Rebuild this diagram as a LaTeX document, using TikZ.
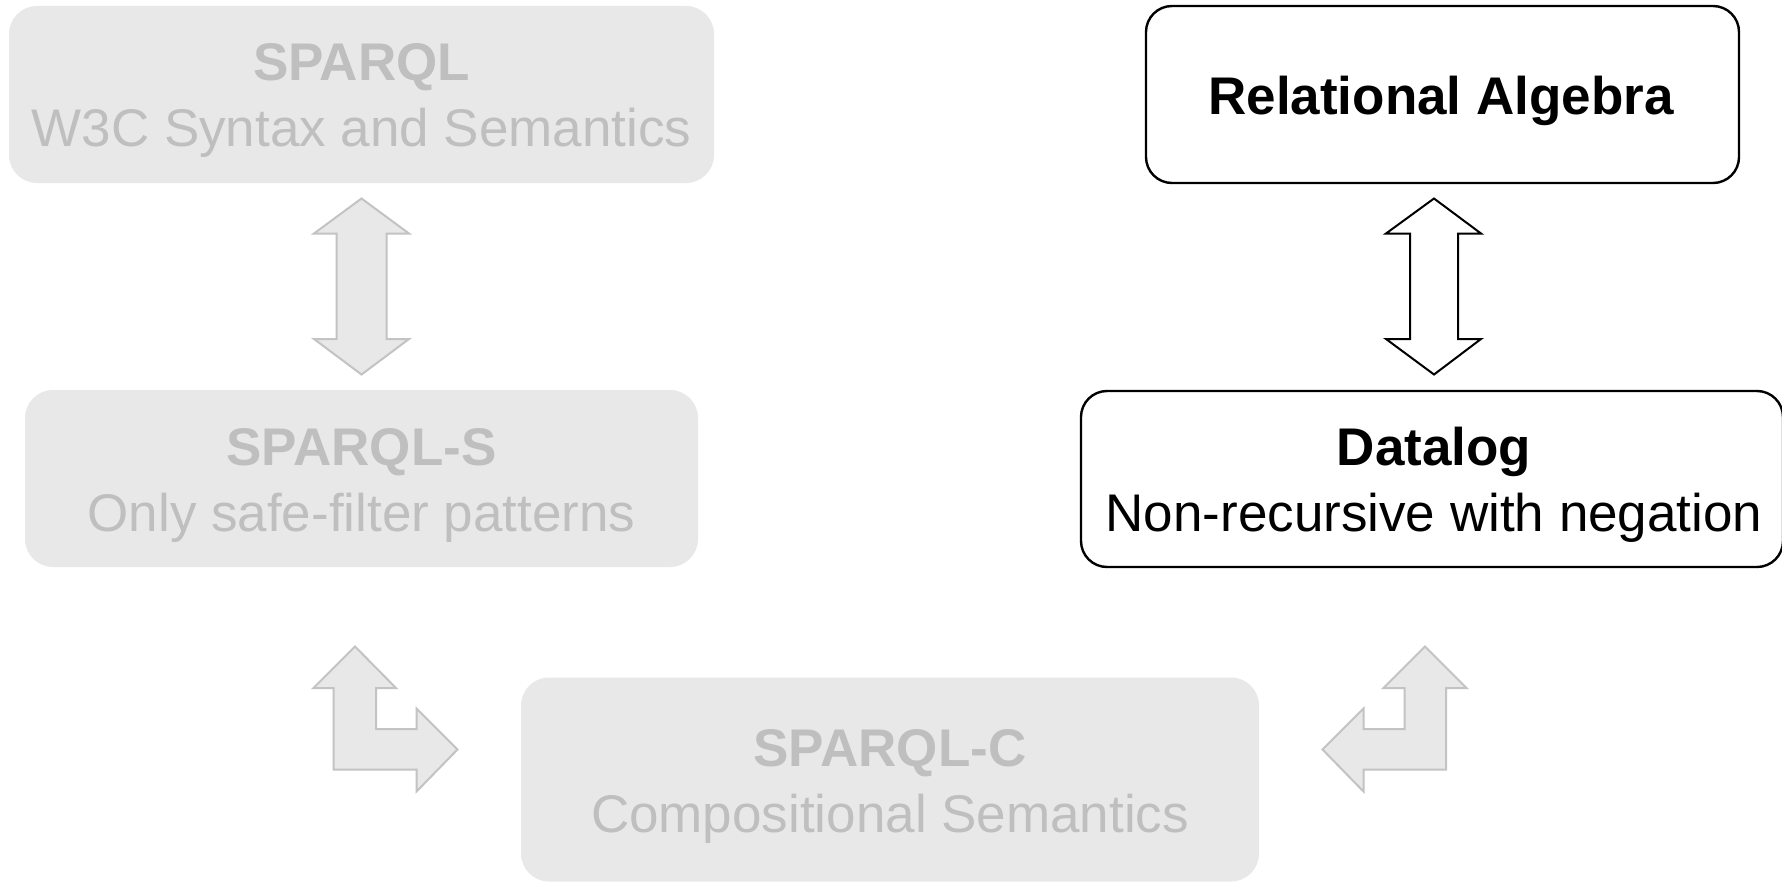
\documentclass[tikz,border=0pt]{standalone}
\usepackage{fontspec}
\setmainfont{Liberation Sans}
\definecolor{boxgray}{HTML}{E8E8E8}
\definecolor{textgray}{HTML}{BFBFBF}
\definecolor{linegray}{HTML}{C3C3C3}
\begin{document}
\begin{tikzpicture}[x=0.5pt,y=-0.5pt,
  lbl/.style={inner sep=0pt, anchor=base, font=\fontsize{26.5pt}{33pt}\selectfont},
  ttl/.style={lbl, font=\fontsize{26.5pt}{33pt}\selectfont\bfseries},
  gbox/.style={rectangle, rounded corners=14pt, fill=boxgray, draw=none, inner sep=0pt},
  bbox/.style={rectangle, rounded corners=13pt, fill=white, draw=black, line width=1.2pt, inner sep=0pt},
  garrow/.style={fill=boxgray, draw=linegray, line width=1pt},
  barrow/.style={fill=white, draw=black, line width=1pt}]
\useasboundingbox (0,0) rectangle (1782,883);
\fill[white] (0,0) rectangle (1782,883);

% faded SPARQL side
\node[gbox, minimum width=352.5pt, minimum height=88.5pt] (sparql) at (361.5,94.5) {};
\node[ttl, text=textgray] (sparqlT) at (361.5,81) {SPARQL};
\node[lbl, text=textgray] (sparqlS) at (361.5,147) {W3C Syntax and Semantics};

\node[gbox, minimum width=336.5pt, minimum height=88.5pt] (sparqls) at (361.5,478.5) {};
\node[ttl, text=textgray] (sparqlsT) at (361.5,465) {SPARQL-S};
\node[lbl, text=textgray] (sparqlsS) at (361.5,531) {Only safe-filter patterns};

\node[gbox, minimum width=369pt, minimum height=102pt] (sparqlc) at (890,779.5) {};
\node[ttl, text=textgray] (sparqlcT) at (890,766) {SPARQL-C};
\node[lbl, text=textgray] (sparqlcS) at (890,832) {Compositional Semantics};

% logic side
\node[bbox, minimum width=296.5pt, minimum height=88.5pt] (ra) at (1442.5,94.5) {};
\node[ttl] (raT) at (1441,114) {Relational Algebra};

\node[bbox, minimum width=351pt, minimum height=88pt] (datalog) at (1432,479) {};
\node[ttl] (datalogT) at (1434,465) {Datalog};
\node[lbl] (datalogS) at (1434,531) {Non-recursive with negation};

% block arrows
\draw[garrow] (361.5,198.5) -- (409,233.5) -- (386.5,233.5) -- (386.5,339) -- (409,339)
  -- (361.5,374.5) -- (314,339) -- (336.5,339) -- (336.5,233.5) -- (314,233.5) -- cycle;

\draw[barrow] (1434,198.5) -- (1481,233.5) -- (1458,233.5) -- (1458,339) -- (1481,339)
  -- (1434,374.5) -- (1386,339) -- (1410,339) -- (1410,233.5) -- (1386,233.5) -- cycle;

\draw[garrow] (355,646.5) -- (396,688) -- (376,688) -- (376,729) -- (416.5,729)
  -- (416.5,708.5) -- (457.5,749.5) -- (416.5,791.5) -- (416.5,769.5) -- (333.5,769.5)
  -- (333.5,688) -- (313.5,688) -- cycle;

\draw[garrow] (1425,646.5) -- (1466.5,688) -- (1446,688) -- (1446,769.5) -- (1363.5,769.5)
  -- (1363.5,791.5) -- (1322.5,749.5) -- (1363.5,708.5) -- (1363.5,729) -- (1404.5,729)
  -- (1404.5,688) -- (1383.5,688) -- cycle;
\end{tikzpicture}
\end{document}
